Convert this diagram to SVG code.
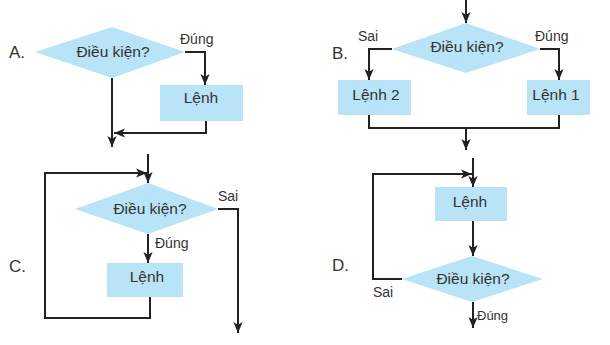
<svg xmlns="http://www.w3.org/2000/svg" width="610" height="345" viewBox="0 0 610 345">
<style>
.shape{fill:#b9e3f6;stroke:none}
.t{font-family:"Liberation Sans",Arial,sans-serif;font-size:15.5px;fill:#333;text-anchor:middle}
.s{font-family:"Liberation Sans",Arial,sans-serif;font-size:14px;fill:#333}
.lbl{font-family:"Liberation Sans",Arial,sans-serif;font-size:17px;fill:#333}
.c{fill:none;stroke:#222;stroke-width:2}
</style>
<defs>
<marker id="arr" markerUnits="userSpaceOnUse" markerWidth="11" markerHeight="11" viewBox="0 0 10 10" refX="10" refY="5" orient="auto">
<path d="M0,0.8 L10,5 L0,9.2 L2.5,5 Z" fill="#222"/>
</marker>
</defs>
<rect width="610" height="345" fill="#fff"/>

<text class="lbl" x="9" y="58">A.</text>
<text class="lbl" x="332" y="59">B.</text>
<text class="lbl" x="9" y="272">C.</text>
<text class="lbl" x="332" y="271">D.</text>

<g id="A-cond"><polygon class="shape" points="35,52 112,27 185,52 112,78"/><text class="t" x="113" y="57">Điều kiện?</text></g>
<g id="A-cmd"><rect class="shape" x="160" y="85" width="83" height="36"/><text class="t" x="201" y="103">Lệnh</text></g>

<g id="B-cond"><polygon class="shape" points="392,49 466,23 540,49 466,73"/><text class="t" x="467" y="52">Điều kiện?</text></g>
<g id="B-cmd2"><rect class="shape" x="338" y="80" width="73" height="35"/><text class="t" x="376" y="100">Lệnh 2</text></g>
<g id="B-cmd1"><rect class="shape" x="527" y="80" width="63" height="35"/><text class="t" x="556" y="100">Lệnh 1</text></g>

<g id="C-cond"><polygon class="shape" points="75,209 148,183 218,209 148,234"/><text class="t" x="150" y="214">Điều kiện?</text></g>
<g id="C-cmd"><rect class="shape" x="107" y="263" width="76" height="34"/><text class="t" x="147" y="282">Lệnh</text></g>

<g id="D-cmd"><rect class="shape" x="435" y="187" width="72" height="34"/><text class="t" x="470" y="207">Lệnh</text></g>
<g id="D-cond"><polygon class="shape" points="402,279 472,256 543,279 472,302"/><text class="t" x="473" y="284">Điều kiện?</text></g>

<g id="connectors">
<polyline class="c" points="185,52 205,52 205,85" marker-end="url(#arr)"/>
<polyline class="c" points="112,78 112,147" marker-end="url(#arr)"/>
<polyline class="c" points="206,121 206,133 114,133" marker-end="url(#arr)"/>

<polyline class="c" points="466,0 466,23" marker-end="url(#arr)"/>
<polyline class="c" points="392,49 369,49 369,80" marker-end="url(#arr)"/>
<polyline class="c" points="540,49 559,49 559,80" marker-end="url(#arr)"/>
<polyline class="c" points="369,115 369,128 559,128 559,115"/>
<polyline class="c" points="466,128 466,150" marker-end="url(#arr)"/>

<polyline class="c" points="148,154 148,183" marker-end="url(#arr)"/>
<polyline class="c" points="45,318 45,173 147,173" marker-end="url(#arr)"/>
<polyline class="c" points="218,209 238,209 238,333" marker-end="url(#arr)"/>
<polyline class="c" points="148,234 148,263" marker-end="url(#arr)"/>
<polyline class="c" points="150,297 150,318 44,318"/>

<polyline class="c" points="473,158 473,187" marker-end="url(#arr)"/>
<polyline class="c" points="402,279 373,279 373,174 472,174" marker-end="url(#arr)"/>
<polyline class="c" points="473,221 473,256" marker-end="url(#arr)"/>
<polyline class="c" points="473,302 473,328" marker-end="url(#arr)"/>
</g>

<text class="s" x="180" y="44">Đúng</text>
<text class="s" x="358" y="41">Sai</text>
<text class="s" x="535" y="41">Đúng</text>
<text class="s" x="218" y="201">Sai</text>
<text class="s" x="155" y="248">Đúng</text>
<text class="s" x="373" y="297">Sai</text>
<text class="s" x="477" y="320" style="font-size:13px">Đúng</text>
</svg>
